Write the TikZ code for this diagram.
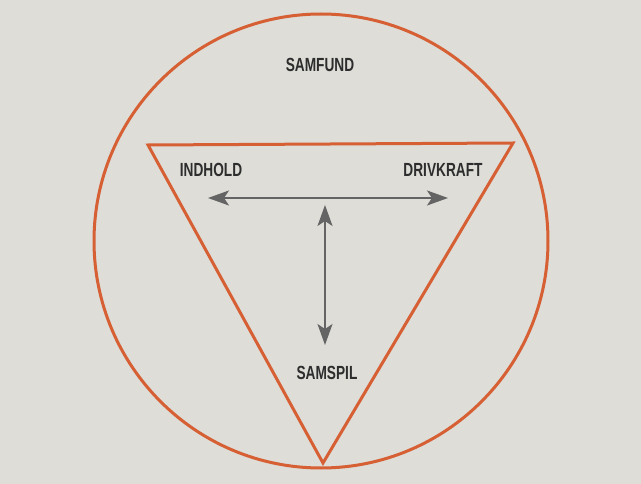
\documentclass[tikz,border=0pt]{standalone}
\usepackage{fontspec}
\setmainfont{Liberation Sans}
\usetikzlibrary{arrows.meta}
\definecolor{bgpage}{RGB}{222,221,216}
\definecolor{orng}{RGB}{214,96,52}
\definecolor{arrgray}{RGB}{100,100,100}
\definecolor{txt}{RGB}{45,45,45}
\tikzset{
  lbl/.style={font=\bfseries\fontsize{19}{20}\selectfont, text=txt, xscale=0.72, inner sep=1pt},
  shape line/.style={draw=orng, line width=3pt},
  dbl/.style={draw=arrgray, line width=2pt, {Stealth[length=21pt,width=15pt,inset=5pt]}-{Stealth[length=21pt,width=15pt,inset=5pt]}}
}
\begin{document}
\begin{tikzpicture}[x=1pt,y=-1pt]
\fill[bgpage] (0,0) rectangle (641,484);
\useasboundingbox (0,0) rectangle (641,484);
\node[shape line, circle, minimum size=454pt, inner sep=0pt] (circ) at (321,241) {};
\coordinate (tl) at (148,145);
\coordinate (tr) at (513,143);
\coordinate (bt) at (323,463);
\draw[shape line, line join=miter] (tl) -- (tr) -- (bt) -- cycle;
\node[lbl] (samfund) at (320,65) {SAMFUND};
\node[lbl] (indhold) at (211,170) {INDHOLD};
\node[lbl] (drivkraft) at (443,170) {DRIVKRAFT};
\node[lbl] (samspil) at (327,373) {SAMSPIL};
\coordinate (hl) at (208,198);
\coordinate (hr) at (448,198);
\coordinate (vt) at (325,205);
\coordinate (vb) at (325,345);
\draw[dbl] (hl) -- (hr);
\draw[dbl] (vt) -- (vb);
\end{tikzpicture}
\end{document}
